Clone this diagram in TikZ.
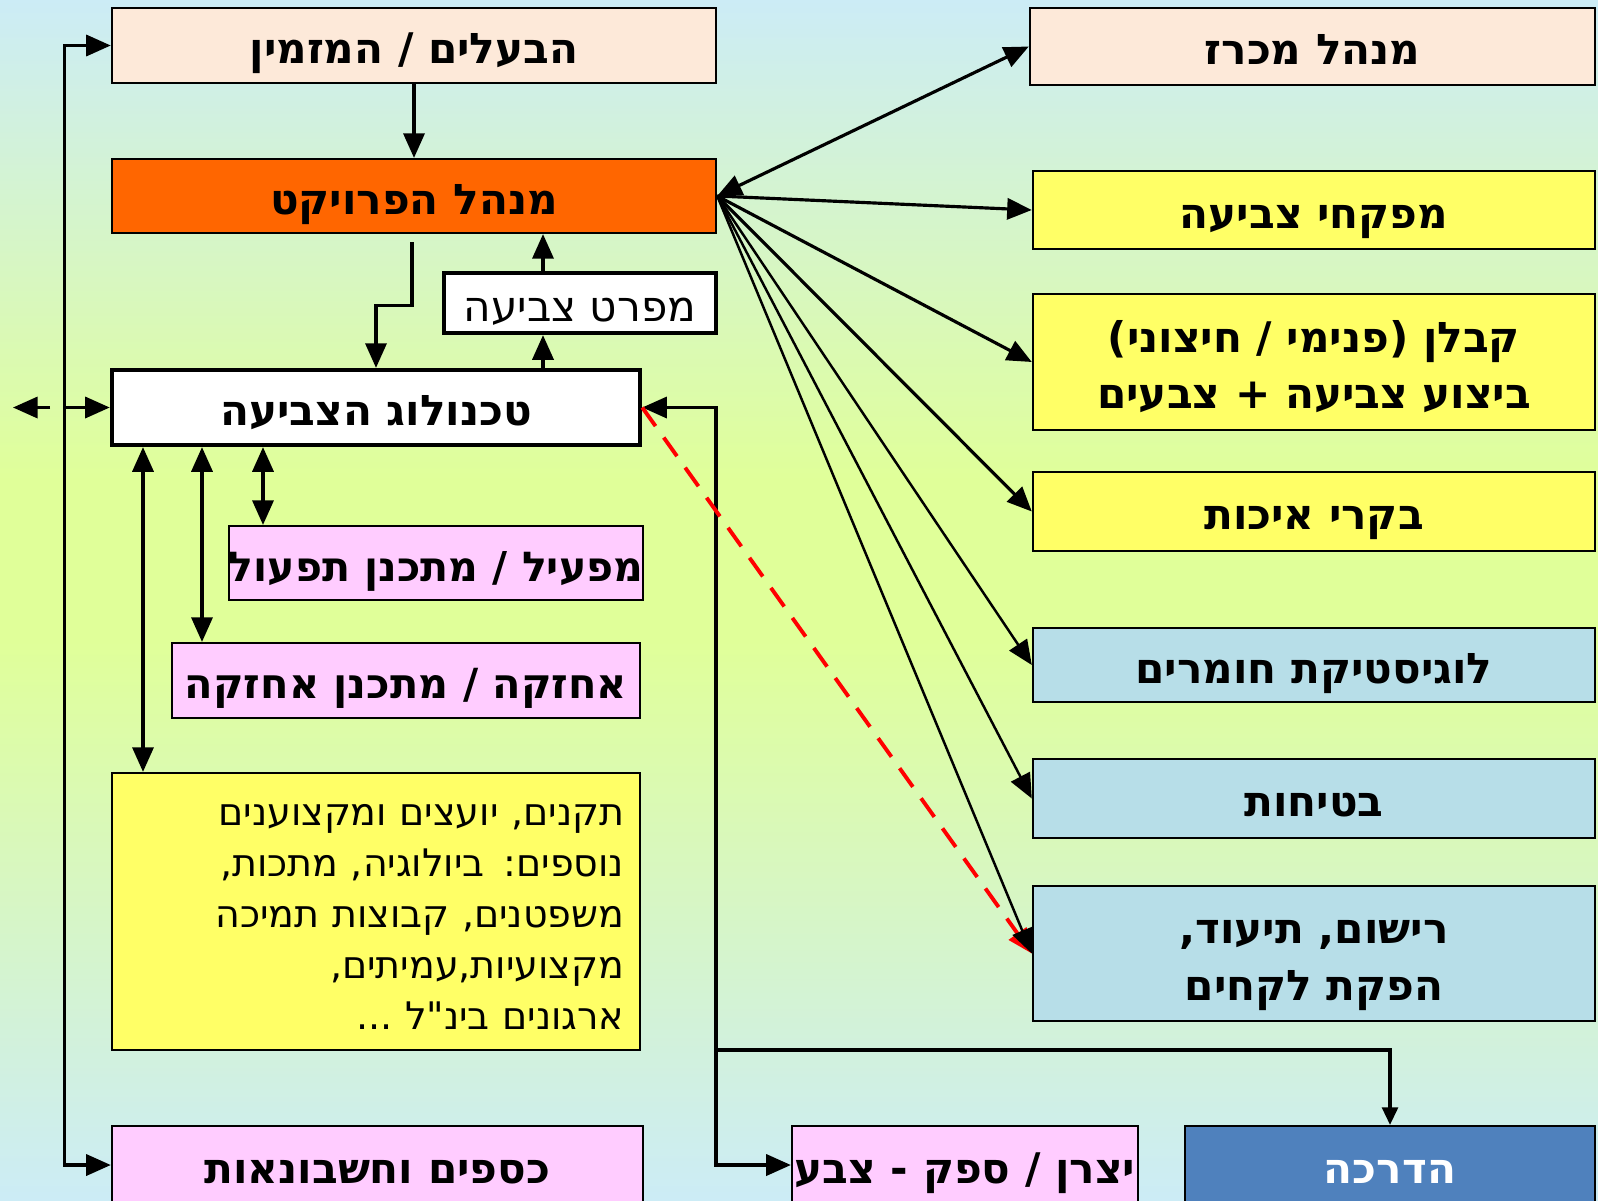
\documentclass[tikz,border=0pt]{standalone}
\usepackage{fontspec}
\usetikzlibrary{arrows.meta,calc}
\newfontfamily\hebfont[Script=Hebrew]{DejaVu Sans}
\TeXXeTstate=1
\newcommand{\heb}[1]{\beginR #1\endR}
\definecolor{bgblue}{RGB}{204,236,246}
\definecolor{bgyellow}{RGB}{224,255,153}
\definecolor{peach}{RGB}{253,233,217}
\definecolor{pmorange}{RGB}{255,102,0}
\definecolor{lemon}{RGB}{255,255,102}
\definecolor{pinkish}{RGB}{255,204,255}
\definecolor{paleblue}{RGB}{183,222,232}
\definecolor{steel}{RGB}{79,129,189}
\tikzset{
  box/.style={draw, line width=0.6pt, inner sep=0pt, font=\hebfont\bfseries\fontsize{12}{16}\selectfont,
    align=center, text height=10.5pt, text depth=0pt},
  tworows/.style={text height=26.5pt, text depth=0pt},
  thickbox/.style={box, line width=1.2pt, fill=white},
  >={Triangle[length=7pt,width=6pt]},
  link/.style={line width=0.9pt},
  fan/.style={line width=0.7pt}
}
\begin{document}
\begin{tikzpicture}[x=0.01cm,y=-0.01cm]
\useasboundingbox (0,0) rectangle (1598,1200);
\shade[top color=bgblue, bottom color=bgyellow] (0,0) rectangle (1598,480);
\fill[bgyellow] (0,480) rectangle (1598,640);
\shade[top color=bgyellow, bottom color=bgblue] (0,640) rectangle (1598,1200);

% left column
\node[box, fill=peach, minimum width=6.04cm, minimum height=0.75cm] (owners) at (414,45.5) {\heb{הבעלים / המזמין}};
\node[box, fill=pmorange, minimum width=6.04cm, minimum height=0.74cm] (pm) at (414,196) {\heb{מנהל הפרויקט}};
\node[thickbox, minimum width=2.72cm, minimum height=0.6cm, font=\hebfont\fontsize{12}{16}\selectfont] (spec) at (580,303) {\heb{מפרט צביעה}};
\node[thickbox, minimum width=5.28cm, minimum height=0.75cm] (tech) at (376,407.5) {\heb{טכנולוג הצביעה}};
\node[box, fill=pinkish, minimum width=4.08cm, minimum height=0.74cm, font=\hebfont\bfseries\fontsize{11.7}{16}\selectfont] (mafil) at (436,563) {\heb{מפעיל / מתכנן תפעול}};
\node[box, fill=pinkish, minimum width=4.68cm, minimum height=0.75cm, font=\hebfont\bfseries\fontsize{11.8}{16}\selectfont] (achzaka) at (406,680.5) {\heb{אחזקה / מתכנן אחזקה}};
\node[box, fill=lemon, minimum width=5.28cm, minimum height=2.77cm, text width=4.96cm, align=right,
  text height=9pt, text depth=58pt, font=\hebfont\fontsize{10.8}{14.5}\selectfont] (experts) at (376,911.5)
  {\heb{תקנים, יועצים ומקצוענים}\\\heb{נוספים: ביולוגיה, מתכות,}\\\heb{משפטנים, קבוצות תמיכה}\\\heb{מקצועיות,עמיתים,}\\\heb{ארגונים בינ"ל ...}};
\node[box, fill=pinkish, minimum width=5.31cm, minimum height=0.78cm] (finance) at (377.5,1165) {\heb{כספים וחשבונאות}};
\node[box, fill=pinkish, minimum width=3.46cm, minimum height=0.78cm] (supplier) at (965,1165) {\heb{יצרן / ספק - צבע}};
\node[box, fill=steel, text=white, minimum width=4.1cm, minimum height=0.78cm] (training) at (1390,1165) {\heb{הדרכה}};

% right column
\node[box, fill=peach, minimum width=5.65cm, minimum height=0.77cm] (tender) at (1312.5,46.5) {\heb{מנהל מכרז}};
\node[box, fill=lemon, minimum width=5.62cm, minimum height=0.78cm] (inspect) at (1314,210) {\heb{מפקחי צביעה}};
\node[box, tworows, fill=lemon, minimum width=5.62cm, minimum height=1.36cm] (contractor) at (1314,362) {\heb{קבלן (פנימי / חיצוני)}\\\heb{ביצוע צביעה + צבעים}};
\node[box, fill=lemon, minimum width=5.62cm, minimum height=0.79cm] (qc) at (1314,511.5) {\heb{בקרי איכות}};
\node[box, fill=paleblue, minimum width=5.62cm, minimum height=0.74cm] (logistics) at (1314,665) {\heb{לוגיסטיקת חומרים}};
\node[box, fill=paleblue, minimum width=5.62cm, minimum height=0.79cm] (safety) at (1314,798.5) {\heb{בטיחות}};
\node[box, tworows, fill=paleblue, minimum width=5.62cm, minimum height=1.35cm] (records) at (1314,953.5) {\heb{רישום, תיעוד,}\\\heb{הפקת לקחים}};

\coordinate (out) at (13,407.5);
\coordinate (specx) at (543,0);
\coordinate (rbus) at (716,0);
\coordinate (split) at (716,1050);
\coordinate (b1) at (143,0);
\coordinate (b2) at (202,0);
\coordinate (b3) at (263,0);

\draw[link,->] (owners) -- (pm);
\draw[link,<->] (owners.west) -| ++(-46,0) |- (finance.west);
\draw[link,<->,dash pattern=on 5.7pt off 4.5pt on 20pt] (tech.west) -- (out);
\draw[link,->] ($(pm.south)+(-2,8)$) -- ++(0,63) -| (tech.north);
\draw[link,->] (specx |- tech.north) -- (specx |- spec.south);
\draw[link,->] (specx |- spec.north) -- (specx |- pm.south);
\draw[link,<->] (b1 |- tech.south) -- (b1 |- experts.north);
\draw[link,<->] (b2 |- tech.south) -- (b2 |- achzaka.north);
\draw[link,<->] (b3 |- tech.south) -- (b3 |- mafil.north);
\draw[link,<->] (tech.east) -| (rbus |- supplier.west) -- (supplier.west);
\draw[link,->,>={Triangle[length=5pt,width=4.5pt]}] (split) -| (training.north);
\draw[red,line width=1.1pt,->,dash pattern=on 6.5pt off 4pt] (tech.east) -- (records.west);

\draw[link,<->] (pm.east) -- (tender.west);
\foreach \n in {inspect,contractor,qc}
  \draw[link,->] (pm.east) -- (\n.west);
\foreach \n in {logistics,safety,records}
  \draw[fan,->] (pm.east) -- (\n.west);
\end{tikzpicture}
\end{document}
